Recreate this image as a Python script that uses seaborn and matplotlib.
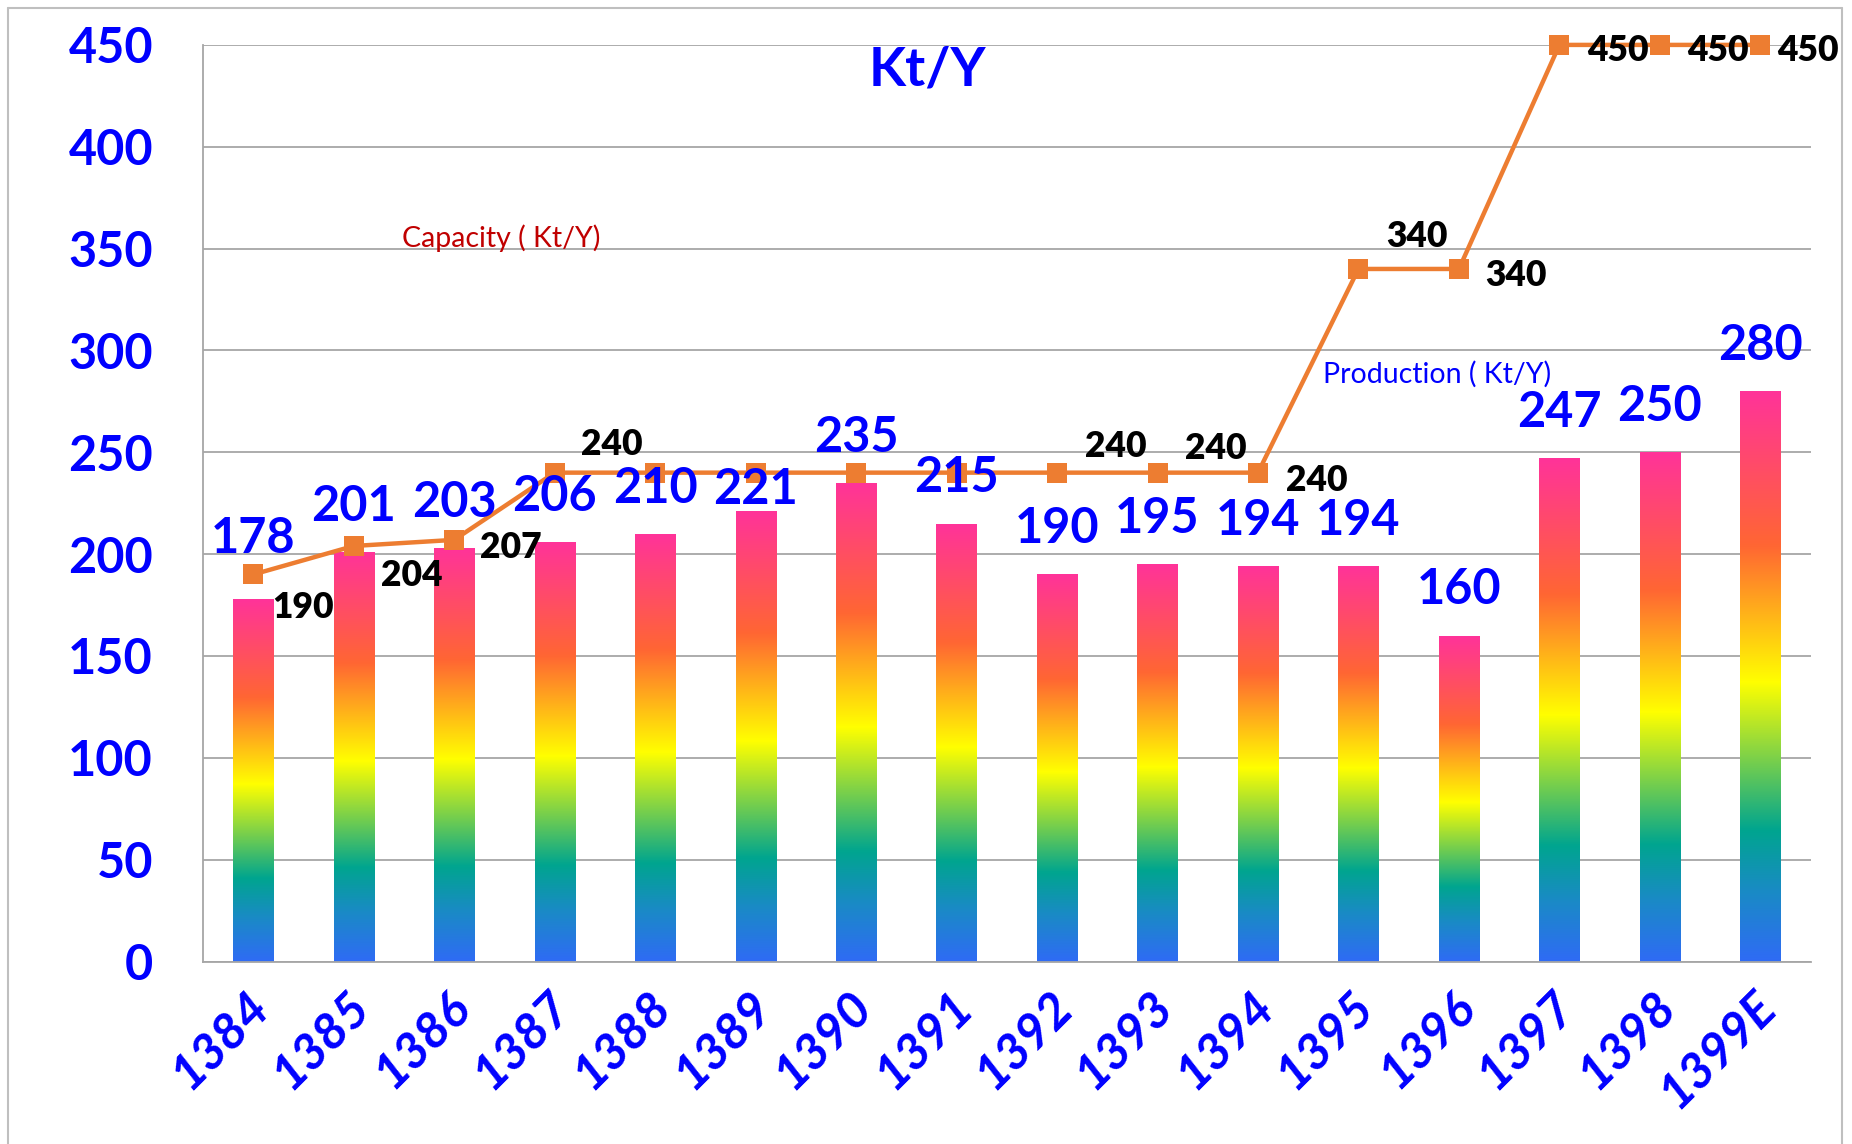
import numpy as np
import matplotlib.pyplot as plt
import matplotlib.transforms as mtransforms
import seaborn as sns
import pandas as pd
from matplotlib.colors import LinearSegmentedColormap
from matplotlib.lines import Line2D

# 数据
years = ["1384", "1385", "1386", "1387", "1388", "1389", "1390", "1391",
         "1392", "1393", "1394", "1395", "1396", "1397", "1398", "1399E"]
production = [178, 201, 203, 206, 210, 221, 235, 215, 190, 195, 194, 194, 160, 247, 250, 280]
capacity = [190, 204, 207, 240, 240, 240, 240, 240, 240, 240, 240, 340, 340, 450, 450, 450]
y_ticks = [0, 50, 100, 150, 200, 250, 300, 350, 400, 450]

# 标签偏移（points），None 表示不显示
bar_lbl_dy = [33, 22.5, 22.5, 22.5, 22.5, 5, 22.5, 22.5, 22.5, 22.5, 22.5, 22.5, 22.5, 22.5, 22.5, 22.5]
cap_lbl_off = [(36, -31), (42, -29), (41, -13), (41, 13), None, None, None, None,
               (42, 11), (42, 10), (42, -13), (42, 15.5), (41, -12.5), (42, -11.5), (42, -11.5), (34, -11.5)]

BLUE = "#0000FF"
ORANGE = "#ED7D31"
GRID = "#A6A6A6"

sns.set_style("white")
plt.rcParams['font.family'] = ['Lato', 'DejaVu Sans']

W, H = 1852, 1144
fig = plt.figure(figsize=(W / 100, H / 100), dpi=100)
ax = fig.add_axes([203 / W, 1 - 961.5 / H, (1810.6 - 203) / W, (961.5 - 44.9) / H])

df = pd.DataFrame({"year": years, "production": production, "capacity": capacity})

# 柱状图（之后用渐变填充）
sns.barplot(data=df, x="year", y="production", ax=ax, width=0.4, color="white", zorder=2)

rainbow = LinearSegmentedColormap.from_list("rainbow_bar", [
    (0.0, "#2F6BF5"), (0.12, "#1A8AC6"), (0.23, "#00A58F"), (0.49, "#FFFF00"),
    (0.73, "#FF6633"), (1.0, "#FF3399")])
grad = np.linspace(0, 1, 256).reshape(-1, 1)
for p in ax.patches:
    x0, w, h = p.get_x(), p.get_width(), p.get_height()
    ax.imshow(grad, extent=[x0, x0 + w, 0, h], origin="lower", aspect="auto",
              cmap=rainbow, zorder=2)
    p.set_facecolor("none")
    p.set_edgecolor("none")

# 产能折线
sns.pointplot(data=df, x="year", y="capacity", ax=ax, color=ORANGE, markers="s",
              markersize=15, linewidth=3.2, errorbar=None, markeredgewidth=0,
              zorder=4, clip_on=False)

ax.set_xlim(-0.5, len(years) - 0.5)
ax.set_ylim(0, 450)
ax.set_xlabel("")
ax.set_ylabel("")

# 网格与坐标轴
ax.yaxis.grid(True, color=GRID, lw=1.3)
ax.set_axisbelow(True)
sns.despine(ax=ax)
for s in ["left", "bottom"]:
    ax.spines[s].set_color(GRID)
    ax.spines[s].set_linewidth(1.3)

ax.set_yticks(y_ticks)
ax.tick_params(axis="y", length=14, width=1.3, color=GRID, pad=22,
               labelsize=35, labelcolor=BLUE)
for t in ax.get_yticklabels():
    t.set_fontweight("bold")

ax.set_xticks(np.arange(-0.5, len(years), 1), minor=True)
ax.tick_params(axis="x", which="minor", length=16, width=1.3, color=GRID)
ax.tick_params(axis="x", which="major", length=0, pad=27)
ax.set_xticks(range(len(years)))
ax.set_xticklabels(years, rotation=45, ha="right", va="center", rotation_mode="anchor",
                   fontsize=36, fontweight="bold", fontstyle="italic", color=BLUE)
shift = mtransforms.ScaledTranslation(8 / 100, 0, fig.dpi_scale_trans)
for t in ax.get_xticklabels():
    t.set_transform(t.get_transform() + shift)

# 数据标签
for i, v in enumerate(production):
    ax.annotate(str(v), xy=(i, v), xytext=(0, bar_lbl_dy[i]), textcoords="offset points",
                ha="center", va="baseline", fontsize=35, fontweight="bold",
                color=BLUE, zorder=6)
for i, v in enumerate(capacity):
    if cap_lbl_off[i] is None:
        continue
    ax.annotate(str(v), xy=(i, v), xytext=cap_lbl_off[i], textcoords="offset points",
                ha="center", va="baseline", fontsize=25.5, fontweight="heavy",
                color="black", zorder=6, annotation_clip=False)

# 标题与说明文字
fig.text(927 / W, 1 - 85 / H, "Kt/Y", ha="center", va="baseline",
         fontsize=39, fontweight="bold", color=BLUE)
fig.text(401.5 / W, 1 - 246.7 / H, "Capacity ( Kt/Y)", ha="left", va="baseline",
         fontsize=20.5, color="#C00000")
fig.text(1322.7 / W, 1 - 383 / H, "Production ( Kt/Y)", ha="left", va="baseline",
         fontsize=20.5, color=BLUE)

# 外框
bc = "#BFBFBF"
fig.add_artist(Line2D([8 / W, 8 / W], [0, 1 - 8 / H], color=bc, lw=1.5))
fig.add_artist(Line2D([8 / W, 1842 / W], [1 - 8 / H, 1 - 8 / H], color=bc, lw=1.5))
fig.add_artist(Line2D([1842 / W, 1842 / W], [0, 1 - 8 / H], color=bc, lw=1.5))

fig.savefig("out.png", dpi=100)
